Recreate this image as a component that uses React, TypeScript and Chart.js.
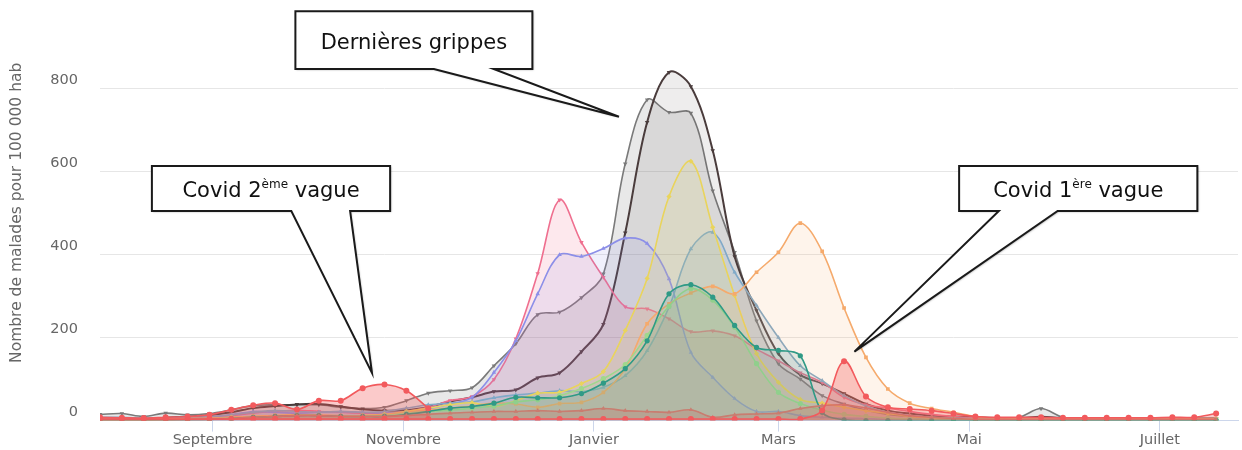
import { useEffect, useRef } from "react";
import { Chart, registerables } from "chart.js";

Chart.register(...registerables);

// Jours depuis le 1er septembre (début de chaque semaine, saison août → juillet)
const weekDays = [
  -36, -29, -22, -15, -8, -1, 6, 13, 20, 27, 34, 41, 48, 55, 62, 69, 76, 83, 90, 97, 104, 111, 118, 125, 132, 139,
  146, 153, 160, 167, 174, 181, 188, 195, 202, 209, 216, 223, 230, 237, 244, 251, 258, 265, 272, 279, 286, 293, 300,
  307, 314, 321,
];

const monthTicks = [0, 61, 122, 181, 242, 303];
const monthNames = ["Septembre", "Novembre", "Janvier", "Mars", "Mai", "Juillet"];
const yTicks = [0, 200, 400, 600, 800];

const grippeSombre = [
  6, 6, 4, 7, 9, 13, 20, 30, 35, 39, 40, 34, 27, 24, 25, 33, 46, 56, 70, 74, 103, 115, 166, 232, 452, 718, 838, 804,
  650, 395, 265, 161, 110, 89, 65, 40, 24, 17, 12, 10, 8, 6, 6, 9, 6, 5, 5, 5, 5, 5, 5, 5,
];
const grippeGrise = [
  15, 17, 10, 18, 14, 17, 26, 36, 38, 38, 38, 32, 29, 32, 48, 66, 72, 79, 132, 185, 255, 261, 296, 353, 618, 772,
  742, 740, 553, 405, 240, 137, 100, 60, 40, 25, 15, 10, 8, 6, 5, 5, 8, 29, 8, 5, 5, 5, 5, 5, 5, 5,
];
const grippeRose = [
  4, 4, 4, 5, 6, 8, 12, 18, 22, 25, 22, 20, 18, 18, 22, 32, 48, 58, 99, 197, 354, 531, 429, 345, 274, 269, 245, 214,
  216, 204, 172, 144, 115, 92, 56, 38, 30, 22, 15, 10, 6, 5, 4, 4, 4, 4, 4, 4, 4, 4, 4, 4,
];
const grippeViolette = [
  3, 3, 3, 4, 5, 7, 14, 22, 20, 18, 20, 22, 20, 18, 20, 28, 40, 56, 116, 192, 305, 399, 395, 414, 439, 426, 341, 164,
  104, 53, 22, 22, 12, 8, 6, 5, 4, 4, 3, 3, 3, 3, 3, 3, 3, 3, 3, 3, 3, 3, 3, 3,
];
const grippeJaune = [
  2, 2, 2, 3, 4, 5, 8, 10, 12, 14, 12, 10, 12, 15, 22, 30, 38, 43, 34, 48, 66, 68, 89, 118, 217, 342, 539, 624, 465,
  301, 161, 92, 51, 42, 32, 24, 17, 10, 6, 4, 3, 3, 3, 3, 3, 3, 3, 3, 3, 3, 3, 3,
];
const grippeBleue = [
  8, 8, 6, 6, 8, 10, 14, 20, 24, 22, 20, 22, 20, 22, 30, 38, 42, 45, 55, 62, 66, 72, 70, 80, 108, 168, 273, 413, 453,
  357, 277, 200, 132, 96, 60, 35, 20, 12, 8, 6, 5, 5, 5, 5, 5, 5, 5, 5, 6, 6, 5, 5,
];
const grippeVerte = [
  2, 2, 2, 2, 3, 4, 6, 8, 10, 12, 12, 10, 10, 12, 18, 22, 25, 30, 35, 45, 50, 60, 77, 101, 135, 205, 275, 318, 290,
  225, 137, 68, 41, 25, 15, 10, 6, 4, 3, 3, 2, 2, 2, 2, 2, 2, 2, 2, 2, 2, 2, 2,
];
const grippeSarcelle = [
  2, 2, 2, 2, 2, 3, 5, 8, 10, 12, 12, 10, 10, 10, 15, 22, 30, 34, 42, 56, 55, 55, 65, 90, 125, 192, 305, 327, 297,
  229, 176, 169, 156, 20, 2, 0, 0, 0, 0, 0, 0, 0, 0, 0, 0, 0, 0, 0, 0, 0, 0, 0,
];
const grippeOrange = [
  3, 3, 3, 4, 5, 6, 8, 10, 12, 14, 14, 12, 12, 14, 20, 25, 30, 35, 42, 40, 32, 41, 44, 68, 125, 233, 281, 307, 323,
  305, 357, 405, 475, 407, 271, 152, 76, 42, 29, 20, 10, 6, 5, 5, 5, 5, 5, 5, 6, 6, 5, 5,
];
const grippeFaible = [
  1, 1, 1, 1, 2, 3, 5, 8, 10, 12, 12, 10, 10, 10, 12, 15, 18, 20, 22, 22, 24, 22, 24, 29, 24, 22, 20, 26, 8, 14, 16,
  18, 29, 36, 38, 30, 20, 12, 8, 5, 3, 3, 3, 3, 3, 3, 3, 3, 3, 3, 3, 3,
];
const covid1 = [
  4, 4, 4, 4, 4, 4, 4, 4, 4, 4, 4, 4, 4, 4, 4, 4, 4, 4, 4, 4, 4, 4, 4, 4, 4, 4, 4, 4, 4, 4, 4, 4, 4, 25, 143, 58, 32,
  28, 24, 17, 10, 8, 8, 8, 7, 7, 7, 7, 7, 8, 8, 17,
];
const covid2 = [8, 7, 6, 8, 10, 14, 26, 37, 42, 27, 48, 48, 78, 87, 72, 30];

// Bulles d'annotation, en coordonnées de données (jour, valeur)
const callouts = [
  { main: "Dernières grippes", sup: "", rest: "", left: 26.5, right: 102.3, top: 985, bottom: 846, base1: 70.8, base2: 89.9, tipX: 130, tipY: 731 },
  { main: "Covid 2", sup: "ème", rest: " vague", left: -19.4, right: 56.8, top: 612.6, bottom: 504.3, base1: 25.2, base2: 44.0, tipX: 51.0, tipY: 114.5 },
  { main: "Covid 1", sup: "ère", rest: " vague", left: 238.8, right: 315.0, top: 612.6, bottom: 504.3, base1: 251.5, base2: 270.3, tipX: 205.3, tipY: 166 },
];

const FONT = "'DejaVu Sans', Verdana, sans-serif";

const calloutPlugin = {
  id: "callouts",
  afterDraw(chart: any) {
    const ctx = chart.ctx as CanvasRenderingContext2D;
    const xs = chart.scales.x;
    const ys = chart.scales.y;
    ctx.save();
    for (const c of callouts) {
      const l = xs.getPixelForValue(c.left);
      const r = xs.getPixelForValue(c.right);
      const t = ys.getPixelForValue(c.top);
      const b = ys.getPixelForValue(c.bottom);
      const b1 = xs.getPixelForValue(c.base1);
      const b2 = xs.getPixelForValue(c.base2);
      const tx = xs.getPixelForValue(c.tipX);
      const ty = ys.getPixelForValue(c.tipY);
      ctx.beginPath();
      ctx.moveTo(l, t);
      ctx.lineTo(r, t);
      ctx.lineTo(r, b);
      ctx.lineTo(Math.max(b1, b2), b);
      ctx.lineTo(tx, ty);
      ctx.lineTo(Math.min(b1, b2), b);
      ctx.lineTo(l, b);
      ctx.closePath();
      ctx.shadowColor = "rgba(0,0,0,0.35)";
      ctx.shadowBlur = 2;
      ctx.shadowOffsetX = 1;
      ctx.shadowOffsetY = 1;
      ctx.fillStyle = "#ffffff";
      ctx.fill();
      ctx.shadowColor = "transparent";
      ctx.lineWidth = 2;
      ctx.strokeStyle = "#1a1a1a";
      ctx.lineJoin = "miter";
      ctx.stroke();

      const mainFont = `21px ${FONT}`;
      const supFont = `12px ${FONT}`;
      ctx.font = mainFont;
      const wMain = ctx.measureText(c.main).width;
      const wRest = ctx.measureText(c.rest).width;
      ctx.font = supFont;
      const wSup = c.sup ? ctx.measureText(c.sup).width : 0;
      const total = wMain + wSup + wRest;
      let x = (l + r) / 2 - total / 2;
      const baseY = (t + b) / 2 + 8.5;
      ctx.fillStyle = "#111111";
      ctx.textAlign = "left";
      ctx.textBaseline = "alphabetic";
      ctx.font = mainFont;
      ctx.fillText(c.main, x, baseY);
      x += wMain;
      if (c.sup) {
        ctx.font = supFont;
        ctx.fillText(c.sup, x, baseY - 9.5);
        x += wSup;
      }
      ctx.font = mainFont;
      ctx.fillText(c.rest, x, baseY);
    }
    ctx.restore();
  },
};

function serie(label: string, values: number[], color: string, fillColor: string, style: string, rotation = 0, radius = 2.6, width = 1.6) {
  return {
    label,
    data: values.map((v, i) => ({ x: weekDays[i], y: v })),
    borderColor: color,
    backgroundColor: fillColor,
    pointBackgroundColor: color,
    pointBorderColor: color,
    pointBorderWidth: 0,
    pointStyle: style,
    pointRotation: rotation,
    pointRadius: radius,
    borderWidth: width,
    fill: "origin",
    tension: 0.35,
  };
}

export default function App() {
  const canvasRef = useRef<HTMLCanvasElement | null>(null);

  useEffect(() => {
    if (!canvasRef.current) return;
    const chart = new Chart(canvasRef.current, {
      type: "line",
      data: {
        datasets: [
          serie("Covid 2020-2021", covid2, "#f25a5d", "rgba(244,91,91,0.32)", "circle", 0, 3),
          serie("Covid 2019-2020", covid1, "#f25a5d", "rgba(244,91,91,0.32)", "circle", 0, 3),
          serie("Grippe A", grippeFaible, "#c97d70", "rgba(190,110,100,0.28)", "triangle"),
          serie("Grippe B", grippeSarcelle, "#2f9a86", "rgba(43,144,143,0.12)", "circle"),
          serie("Grippe C", grippeVerte, "#9fd88c", "rgba(144,210,125,0.12)", "circle"),
          serie("Grippe D", grippeOrange, "#f5aa6c", "rgba(247,163,92,0.12)", "rect"),
          serie("Grippe E", grippeJaune, "#e9d45c", "rgba(228,211,84,0.14)", "rectRot"),
          serie("Grippe F", grippeBleue, "#80a9c8", "rgba(120,160,190,0.16)", "triangle"),
          serie("Grippe G", grippeViolette, "#8c8fe8", "rgba(128,133,233,0.12)", "triangle"),
          serie("Grippe H", grippeRose, "#ef6f8f", "rgba(241,92,128,0.14)", "triangle", 180),
          serie("Grippe I", grippeSombre, "#4a3c3c", "rgba(90,80,80,0.10)", "triangle", 180, 2.6, 2),
          serie("Grippe J", grippeGrise, "#7a7a7a", "rgba(128,128,128,0.18)", "triangle", 180),
        ],
      },
      options: {
        animation: false,
        responsive: false,
        maintainAspectRatio: false,
        devicePixelRatio: 1,
        layout: { padding: { top: 5, left: 0, right: 0, bottom: 0 } },
        plugins: { legend: { display: false }, tooltip: { enabled: false } },
        scales: {
          x: {
            type: "linear",
            min: -36,
            max: 328,
            afterBuildTicks: (scale: any) => {
              scale.ticks = monthTicks.map((v) => ({ value: v }));
            },
            afterFit: (scale: any) => {
              scale.height = 29.4;
              scale.paddingLeft = 0;
              scale.paddingRight = 0;
            },
            ticks: {
              autoSkip: false,
              maxRotation: 0,
              padding: 0,
              color: "#666666",
              font: { family: FONT, size: 14.5 },
              callback: (_v: any, index: number) => monthNames[index],
            },
            grid: { drawOnChartArea: false, drawTicks: true, tickLength: 11, color: "#ccd6eb" },
            border: { display: true, color: "#ccd6eb" },
          },
          y: {
            min: 0,
            max: 1000,
            afterBuildTicks: (scale: any) => {
              scale.ticks = yTicks.map((v) => ({ value: v }));
            },
            afterFit: (scale: any) => {
              scale.width = 100;
              scale.paddingTop = 0;
              scale.paddingBottom = 0;
            },
            ticks: {
              padding: 22,
              labelOffset: -8,
              color: "#666666",
              font: { family: FONT, size: 14.5 },
            },
            grid: { drawTicks: false, color: "#e6e6e6" },
            border: { display: false },
            title: {
              display: true,
              text: "Nombre de malades pour 100 000 hab",
              color: "#666666",
              font: { family: FONT, size: 15.5 },
              padding: { top: 8, bottom: 0 },
            },
          },
        },
      },
      plugins: [calloutPlugin],
    } as any);
    return () => chart.destroy();
  }, []);

  return (
    <div style={{ position: "fixed", left: 0, top: 0, width: 1242, height: 450, background: "#ffffff" }}>
      <canvas ref={canvasRef} width={1242} height={450} style={{ width: 1242, height: 450, display: "block" }} />
    </div>
  );
}
